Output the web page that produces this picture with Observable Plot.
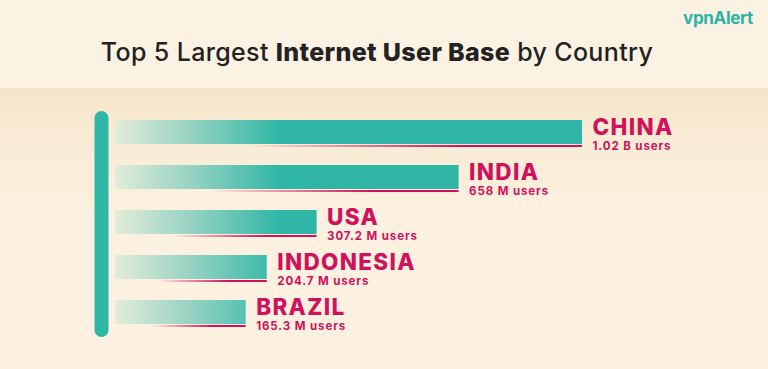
<!DOCTYPE html>
<html><head><meta charset="utf-8">
<script src="https://cdn.jsdelivr.net/npm/d3@7"></script>
<script src="https://cdn.jsdelivr.net/npm/@observablehq/plot@0.6"></script>
<style>
body{margin:0;}
#wrap{position:relative;width:768px;height:369px;overflow:hidden;background:linear-gradient(to bottom,#fcf2e3 0px,#fcf2e3 88px,#f5e4c8 88px,#f9ecd6 140px,#fcf1e0 220px,#fcf1e0 369px);}
#head{height:88px;position:relative;}
#title{position:absolute;left:0;width:754px;top:37px;text-align:center;font:500 25px Inter,sans-serif;color:#222;letter-spacing:0.35px;white-space:nowrap;}
#title b{font-weight:800;}
#logo{position:absolute;right:15px;top:8px;font:700 17px Inter,sans-serif;color:#2bb3a3;letter-spacing:-0.3px;}
#chart svg{display:block;}
</style></head>
<body><div id="wrap"><div id="head"><div id="title">Top 5 Largest <b>Internet User Base</b> by Country</div><div id="logo">vpnAlert</div></div><div id="chart"></div></div>
<script>
const countries = ["CHINA", "INDIA", "USA", "INDONESIA", "BRAZIL"];
const users = [1020, 658, 307.2, 204.7, 165.3]; // millions of users
const userLabels = ["1.02 B users", "658 M users", "307.2 M users", "204.7 M users", "165.3 M users"];
const data = countries.map((c, i) => ({country: c, users: users[i], label: userLabels[i]}));

const TEAL = "#30b6a6";
const PINK = "#d0115c";

const defs = (index, scales) => {
  const x0 = scales.x(0);
  const g = d3.create("svg:defs");
  const t = g.append("linearGradient").attr("id", "tealGrad")
    .attr("gradientUnits", "userSpaceOnUse")
    .attr("x1", x0).attr("x2", x0 + 165).attr("y1", 0).attr("y2", 0);
  t.append("stop").attr("offset", 0).attr("stop-color", "#e3ecd9");
  t.append("stop").attr("offset", 0.45).attr("stop-color", "#98d3c3");
  t.append("stop").attr("offset", 1).attr("stop-color", TEAL);
  const p = g.append("linearGradient").attr("id", "pinkGrad")
    .attr("x1", 0).attr("x2", 1).attr("y1", 0).attr("y2", 0);
  p.append("stop").attr("offset", 0.28).attr("stop-color", PINK).attr("stop-opacity", 0);
  p.append("stop").attr("offset", 0.75).attr("stop-color", PINK).attr("stop-opacity", 1);
  p.append("stop").attr("offset", 1).attr("stop-color", PINK).attr("stop-opacity", 1);
  return g.node();
};

const chart = Plot.plot({
  width: 768,
  height: 281,
  marginLeft: 115,
  marginRight: 186,
  marginTop: 30,
  marginBottom: 39,
  x: {type: "pow", exponent: 0.7, domain: [0, 1020], axis: null},
  y: {domain: countries, paddingInner: 0.39, paddingOuter: 0, axis: null},
  style: {background: "transparent", overflow: "visible"},
  marks: [
    defs,
    Plot.ruleX([0], {stroke: TEAL, strokeWidth: 14, strokeLinecap: "round", dx: -14}),
    Plot.barX(data, {x: "users", y: "country", fill: "url(#tealGrad)", insetBottom: 3}),
    Plot.barX(data, {x: "users", y: "country", fill: "url(#pinkGrad)", insetTop: 25}),
    Plot.text(data, {x: "users", y: "country", text: "country", textAnchor: "start", lineAnchor: "bottom",
      dx: 10, dy: 0.5, fill: PINK, fontSize: 22.5, fontWeight: 800, fontFamily: "Inter"}),
    Plot.text(data, {x: "users", y: "country", text: "label", textAnchor: "start", lineAnchor: "bottom",
      dx: 10, dy: 15.5, fill: PINK, fontSize: 11.5, fontWeight: 700, fontFamily: "Inter"})
  ]
});
const textGroups = chart.querySelectorAll('g[aria-label="text"]');
textGroups[0].style.letterSpacing = "1.3px";
textGroups[1].style.letterSpacing = "0.9px";
document.getElementById("chart").appendChild(chart);
</script>
</body></html>
